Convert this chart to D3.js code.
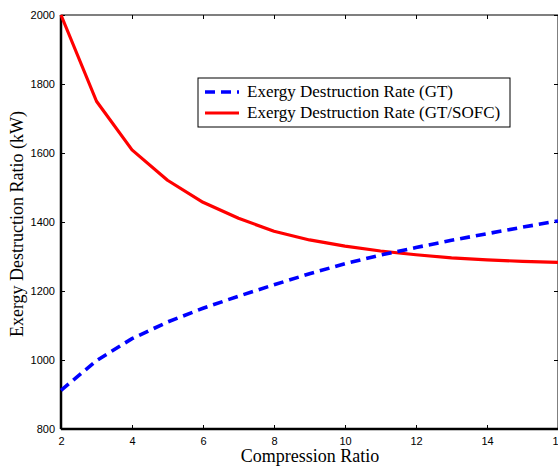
<!DOCTYPE html>
<html>
<head>
<meta charset="utf-8">
<script src="https://cdn.jsdelivr.net/npm/d3@7"></script>
<style>
  body { margin: 0; background: #fff; }
  svg { display: block; }
  .tick text { font-family: Arial, "Liberation Sans", sans-serif; font-size: 11px; }
  .serif { font-family: "Liberation Serif", "Times New Roman", Times, serif; }
</style>
</head>
<body>
<svg id="chart" width="558" height="467"></svg>
<script>
// compression ratio values
const ratios = [2, 3, 4, 5, 6, 7, 8, 9, 10, 11, 12, 13, 14, 15, 16];
// exergy destruction rate (kW)
const gt = [912, 998, 1062, 1110, 1150, 1185, 1218, 1250, 1279, 1304, 1326, 1347, 1366, 1385, 1403];
const gtSofc = [2000, 1750, 1609, 1521, 1457, 1411, 1373, 1348, 1330, 1316, 1305, 1296, 1290, 1286, 1283];
const xTicks = [2, 4, 6, 8, 10, 12, 14, 16];
const yTicks = [800, 1000, 1200, 1400, 1600, 1800, 2000];
const seriesNames = ["Exergy Destruction Rate (GT)", "Exergy Destruction Rate (GT/SOFC)"];

const svg = d3.select("#chart");
const m = { left: 61, right: 558, top: 15, bottom: 429 };

const x = d3.scaleLinear().domain([2, 16]).range([m.left, m.right]);
const y = d3.scaleLinear().domain([800, 2000]).range([m.bottom, m.top]);

// box
svg.append("rect")
  .attr("x", m.left).attr("y", m.top)
  .attr("width", m.right - m.left).attr("height", m.bottom - m.top)
  .style("fill", "none").style("stroke", "#000").style("stroke-width", 1);

// axes (inward ticks)
const xAxis = svg.append("g").attr("transform", `translate(0,${m.bottom})`)
  .call(d3.axisBottom(x).tickValues(xTicks).tickSize(-4).tickPadding(8).tickFormat(d3.format("d")));
const xTop = svg.append("g").attr("transform", `translate(0,${m.top})`)
  .call(d3.axisTop(x).tickValues(xTicks).tickSize(-4).tickFormat(""));
const yAxis = svg.append("g").attr("transform", `translate(${m.left},0)`)
  .call(d3.axisLeft(y).tickValues(yTicks).tickSize(-4).tickPadding(6).tickFormat(d3.format("d")));
const yRight = svg.append("g").attr("transform", `translate(${m.right},0)`)
  .call(d3.axisRight(y).tickValues(yTicks).tickSize(-4).tickFormat(""));

[xAxis, xTop, yAxis, yRight].forEach((g) => {
  g.select(".domain").remove();
  g.selectAll(".tick line").style("stroke", "#000");
  g.selectAll(".tick text").style("fill", "#000");
});
svg.append("line").attr("x1", m.left).attr("x2", m.right).attr("y1", m.bottom).attr("y2", m.bottom)
  .style("stroke", "#000").style("stroke-width", 2.5);
svg.append("line").attr("x1", m.left).attr("x2", m.left).attr("y1", m.top).attr("y2", m.bottom)
  .style("stroke", "#000").style("stroke-width", 2.5);

// lines
const line = (vals) => d3.line().x((d, i) => x(ratios[i])).y((d) => y(d))(vals);
svg.append("path").attr("d", line(gtSofc))
  .style("fill", "none").style("stroke", "#ff0000").style("stroke-width", 3.2)
  .style("stroke-linejoin", "round");
svg.append("path").attr("d", line(gt))
  .style("fill", "none").style("stroke", "#0000ff").style("stroke-width", 3.6)
  .style("stroke-dasharray", "10,6");

// axis titles
svg.append("text").attr("class", "serif").attr("x", 310).attr("y", 462).attr("text-anchor", "middle")
  .attr("font-size", 18)
  .text("Compression Ratio");
svg.append("text").attr("class", "serif").attr("transform", "translate(23,224) rotate(-90)").attr("text-anchor", "middle")
  .attr("font-size", 18)
  .text("Exergy Destruction Ratio (kW)");

// legend
const lg = svg.append("g");
lg.append("rect").attr("x", 198).attr("y", 78).attr("width", 312).attr("height", 49)
  .style("fill", "#fff").style("stroke", "#000").style("stroke-width", 1);
const legendItems = [
  { name: seriesNames[0], color: "#0000ff", dash: "10,6", w: 3.6 },
  { name: seriesNames[1], color: "#ff0000", dash: null, w: 3.2 },
];
legendItems.forEach((d, i) => {
  const yy = 92 + i * 21;
  lg.append("line").attr("x1", 205).attr("x2", 239).attr("y1", yy).attr("y2", yy)
    .style("stroke", d.color).style("stroke-width", d.w)
    .style("stroke-dasharray", d.dash);
  lg.append("text").attr("class", "serif").attr("x", 247).attr("y", yy + 5)
    .attr("font-size", 17)
    .text(d.name);
});
</script>
</body>
</html>
